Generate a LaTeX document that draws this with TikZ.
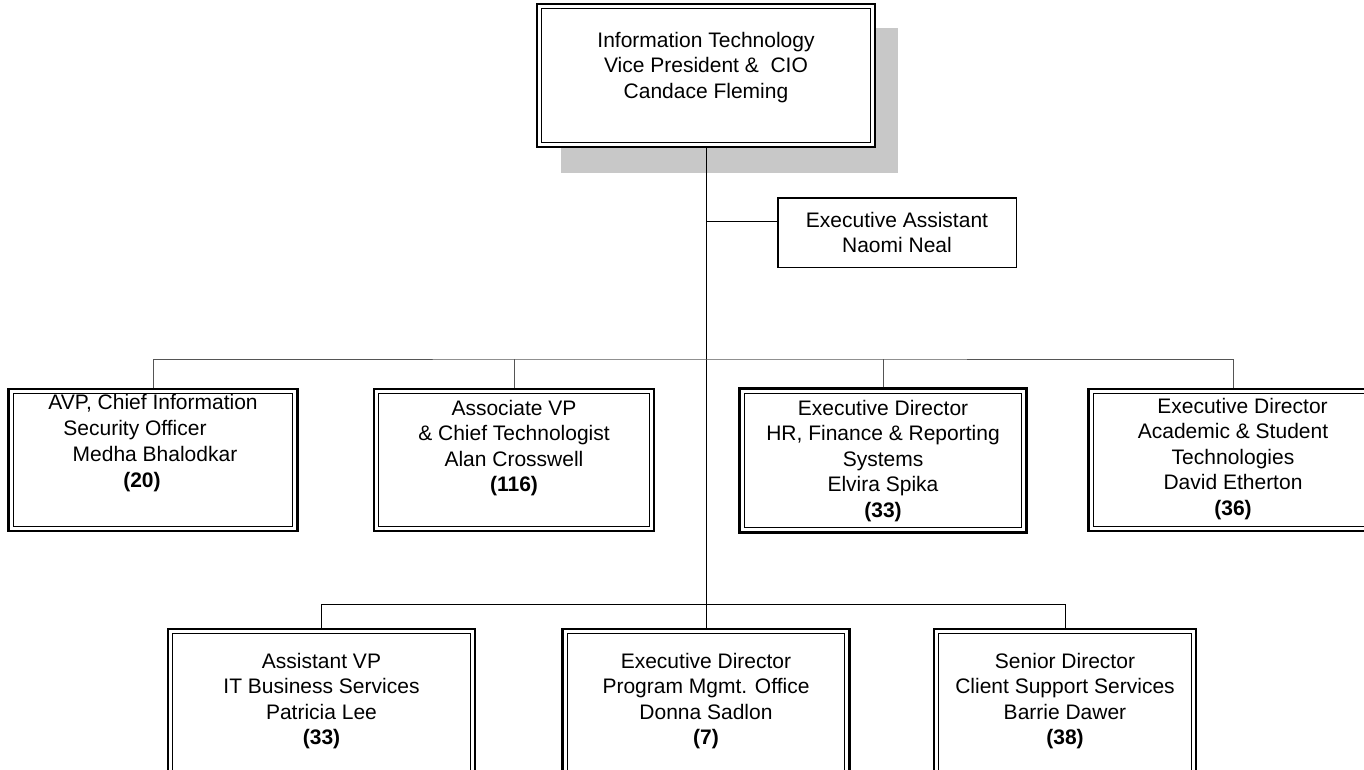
\documentclass[tikz,border=0pt]{standalone}
\usepackage{fontspec}
\setmainfont{Liberation Sans}
\definecolor{shadowgray}{HTML}{C8C8C8}
\definecolor{conngray}{HTML}{555555}
\begin{document}
\begin{tikzpicture}[x=1pt,y=-1pt,
  dbox/.style={draw, rectangle, line width=2.2pt, inner sep=0pt,
    path picture={\draw[line width=1.2pt]
      ([shift={(4.8pt,-4.8pt)}]path picture bounding box.north west) rectangle
      ([shift={(-4.8pt,4.8pt)}]path picture bounding box.south east);}},
  sbox/.style={draw, rectangle, line width=1.5pt, inner sep=0pt, align=center,
    font=\fontsize{21}{25.5}\selectfont},
  txt/.style={align=center, inner sep=0pt, anchor=north,
    font=\fontsize{21}{25.5}\selectfont},
  conn/.style={line width=0.85pt, draw=black},
  conn2/.style={line width=0.85pt, draw=conngray}]
\useasboundingbox (0,0) rectangle (1364,769);
\clip (0,0) rectangle (1364,769);

% shadow of top box
\fill[shadowgray] (561,28) rectangle (898,173);

% top box
\node[dbox, fill=white, minimum width=338pt, minimum height=143pt] (cio) at (706,75.5) {};
\node[txt] (cio-t) at (706,32) {Information Technology\\Vice President \&\ \ CIO\\Candace Fleming};

% executive assistant
\node[sbox, minimum width=238.5pt, minimum height=69.5pt] (ea) at (897,232.5) {Executive Assistant\\Naomi Neal};

% second row
\node[dbox, minimum width=289pt, minimum height=142pt] (r2a) at (153,460) {};
\node[txt, font=\fontsize{21}{25.8}\selectfont] (r2a-t) at (153,394.5) {AVP, Chief Information\\Security Officer\rule{36pt}{0pt}\\\rule{4pt}{0pt}Medha Bhalodkar\\\textbf{(20)}\rule{22pt}{0pt}};

\node[dbox, minimum width=280pt, minimum height=142pt] (r2b) at (514,460) {};
\node[txt] (r2b-t) at (514,400) {Associate VP\\\& Chief Technologist\\Alan Crosswell\\\textbf{(116)}};

\node[dbox, minimum width=287pt, minimum height=144pt] (r2c) at (883,460.5) {};
\node[txt] (r2c-t) at (883,400) {Executive Director\\HR, Finance \& Reporting\\Systems\\Elvira Spika\\\textbf{(33)}};

\node[dbox, minimum width=289pt, minimum height=142pt] (r2d) at (1233,460) {};
\node[txt] (r2d-t) at (1233,398) {\rule{19pt}{0pt}Executive Director\\Academic \& Student\\Technologies\\David Etherton\\\textbf{(36)}};

% third row
\node[dbox, minimum width=307pt, minimum height=160pt] (r3a) at (321.5,709) {};
\node[txt] (r3a-t) at (321.5,653) {Assistant VP\\IT Business Services\\Patricia Lee\\\textbf{(33)}};

\node[dbox, minimum width=287pt, minimum height=160pt] (r3b) at (706,709) {};
\node[txt] (r3b-t) at (706,653) {Executive Director\\Program Mgmt. Office\\Donna Sadlon\\\textbf{(7)}};

\node[dbox, minimum width=262pt, minimum height=160pt] (r3c) at (1065,709) {};
\node[txt] (r3c-t) at (1065,653) {Senior Director\\Client Support Services\\Barrie Dawer\\\textbf{(38)}};

% junctions
\coordinate (eaj) at (706,221);
\coordinate (b2) at (706,359);
\coordinate (b3) at (706,604);

% connectors
\draw[conn] (cio.south) -- (r3b.north);
\draw[conn] (eaj) -- (ea.west |- eaj);
\draw[conn2] (r2a.north) |- (b2) -| (r2d.north);
\draw[conn2] (r2b.north) -- (r2b.north |- b2);
\draw[conn2] (r2c.north) -- (r2c.north |- b2);
\draw[conn] (r3a.north) |- (b3) -| (r3c.north);
\end{tikzpicture}
\end{document}
